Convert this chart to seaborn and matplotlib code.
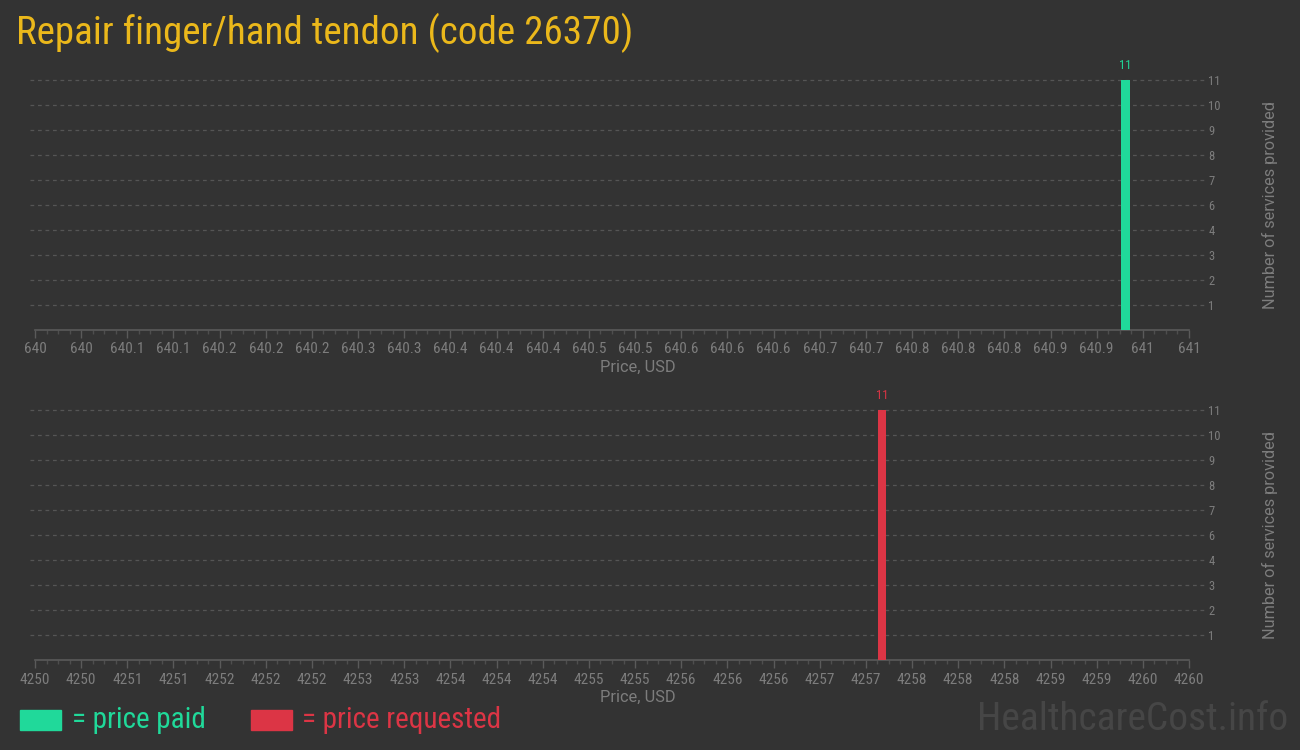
import numpy as np
import pandas as pd
import matplotlib
matplotlib.use("Agg")
import matplotlib.pyplot as plt
from matplotlib.patches import Rectangle
from matplotlib.ticker import FixedLocator, AutoMinorLocator
import seaborn as sns

# values
paid_price = [640.945]
paid_count = [11]
requested_price = [4257.34]
requested_count = [11]

paid_ticks = [640 + 0.04 * i for i in range(26)]
requested_ticks = [4250 + 0.4 * i for i in range(26)]
count_ticks = [1.1 * i for i in range(1, 11)]

title = "Repair finger/hand tendon (code 26370)"

BG = "#333333"
GREEN = "#20d99a"
RED = "#dc3545"
GOLD = "#ebb81b"
GREY = "#7d7d7d"
PLAIN = ["Roboto", "DejaVu Sans"]

sns.set_theme(style="dark")
plt.rcParams["font.family"] = ["Roboto Condensed", "Roboto", "DejaVu Sans"]

fig = plt.figure(figsize=(13, 7.5), dpi=100, facecolor=BG)


def draw_panel(ax, price, count, ticks, color, bar_w, xlo, xhi):
    ax.set_facecolor(BG)
    df = pd.DataFrame({"price": price, "count": count})
    sns.barplot(data=df, x="price", y="count", native_scale=True, width=bar_w,
                color=color, saturation=1, errorbar=None, ax=ax, zorder=3)
    for p in ax.patches:
        p.set_edgecolor("none")
    ax.set_xlim(xlo, xhi)
    ax.set_ylim(0, 11)
    # x axis
    ax.xaxis.set_major_locator(FixedLocator(ticks))
    ax.set_xticklabels(["{:g}".format(round(t, 1 if xhi < 1000 else 0)) for t in ticks])
    ax.xaxis.set_minor_locator(AutoMinorLocator(4))
    ax.tick_params(axis="x", which="major", length=6, width=1, color="#5a5a5a",
                   labelcolor=GREY, labelsize=11, pad=3, bottom=True)
    ax.tick_params(axis="x", which="minor", length=3, width=1, color="#4e4e4e", bottom=True)
    for s in ["top", "right", "left"]:
        ax.spines[s].set_visible(False)
    ax.spines["bottom"].set_color("#5a5a5a")
    ax.spines["bottom"].set_linewidth(1.2)
    ax.set_xlabel("Price, USD", color=GREY, fontsize=11.8, family=PLAIN)
    ax.xaxis.set_label_coords(0.522, -0.12)
    # y axis on the right
    ax.yaxis.tick_right()
    ax.yaxis.set_major_locator(FixedLocator(count_ticks))
    ax.set_yticklabels([str(int(np.floor(t + 0.5))) for t in count_ticks])
    ax.tick_params(axis="y", length=0, labelcolor=GREY, labelsize=9, pad=14)
    ax.grid(False)
    for t in count_ticks:
        ax.axhline(t, xmin=-0.004, xmax=1.014, color="#555555", lw=0.9,
                   ls=(0, (3, 3)), clip_on=False, zorder=1)
    ax.yaxis.set_label_position("right")
    ax.set_ylabel("Number of services provided", color=GREY, fontsize=11.7,
                  family=PLAIN, rotation=90)
    ax.yaxis.set_label_coords(1.063, 0.5)
    for x, c in zip(price, count):
        ax.annotate(str(c), (x, c), xytext=(0, 6), textcoords="offset points",
                    ha="center", va="bottom", color=color, fontsize=9)


ax1 = fig.add_axes([35 / 1300, 1 - 330 / 750, 1154 / 1300, 250 / 750])
draw_panel(ax1, paid_price, paid_count, paid_ticks, GREEN, 0.008, 640, 641)

ax2 = fig.add_axes([35 / 1300, 1 - 660 / 750, 1154 / 1300, 250 / 750])
draw_panel(ax2, requested_price, requested_count, requested_ticks, RED, 0.07, 4250, 4260)

fig.text(16 / 1300, 1 - 33 / 750, title, color=GOLD, fontsize=28.2, va="center", ha="left")

# legend
fig.patches.append(Rectangle((20 / 1300, 1 - 730 / 750), 41 / 1300, 20 / 750,
                             transform=fig.transFigure, color=GREEN))
fig.text(72 / 1300, 1 - 720 / 750, "= price paid", color=GREEN, fontsize=21,
         va="center", ha="left")
fig.patches.append(Rectangle((251 / 1300, 1 - 730 / 750), 41 / 1300, 20 / 750,
                             transform=fig.transFigure, color=RED))
fig.text(302 / 1300, 1 - 720 / 750, "= price requested", color=RED, fontsize=21,
         va="center", ha="left")

fig.text(1288 / 1300, 1 - 720 / 750, "HealthcareCost.info", color="#464646", fontsize=28.4,
         va="center", ha="right")

fig.savefig("out.png", dpi=100, facecolor=BG)
